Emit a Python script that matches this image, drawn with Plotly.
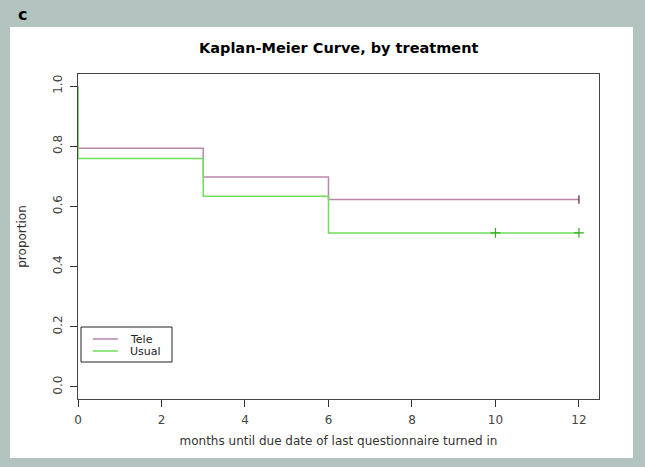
import plotly.graph_objects as go

# Data
groups = ["Tele", "Usual"]
tele_t = [0, 0, 3, 6, 12]
tele_s = [1.0, 0.793, 0.698, 0.623, 0.623]
usual_t = [0, 0, 3, 6, 12]
usual_s = [1.0, 0.759, 0.634, 0.512, 0.512]
tele_cens_t = [12]
tele_cens_s = [0.623]
usual_cens_t = [10, 12]
usual_cens_s = [0.512, 0.512]
x_ticks = [0, 2, 4, 6, 8, 10, 12]
y_ticks = [0.0, 0.2, 0.4, 0.6, 0.8, 1.0]

TELE = "#b987ac"
USUAL = "#6fe05a"
BG = "#b3c3c0"
FONT = "DejaVu Sans, Liberation Sans, Arial, sans-serif"

W, H = 645, 467
L, R, T, B = 78, 46, 74, 68
pw, ph = W - L - R, H - T - B

def px_x(p):
    return (p - L) / pw

def px_y(p):
    return (H - B - p) / ph

fig = go.Figure()
fig.add_trace(go.Scatter(x=tele_t, y=tele_s, mode="lines", line=dict(color=TELE, width=1.5, shape="hv"),
                         name=groups[0]))
fig.add_trace(go.Scatter(x=usual_t, y=usual_s, mode="lines", line=dict(color=USUAL, width=1.5, shape="hv"),
                         name=groups[1]))
fig.add_trace(go.Scatter(x=tele_cens_t, y=tele_cens_s, mode="markers", showlegend=False,
                         marker=dict(symbol="line-ns", size=6, color="#552244",
                                     line=dict(color="#552244", width=1.2))))
fig.add_trace(go.Scatter(x=usual_cens_t, y=usual_cens_s, mode="markers", showlegend=False,
                         marker=dict(symbol="cross-thin", size=7, color="#33aa22",
                                     line=dict(color="#33aa22", width=1.2))))

# white panel
fig.add_shape(type="rect", xref="paper", yref="paper",
              x0=px_x(10), x1=px_x(633), y0=px_y(458), y1=px_y(27),
              fillcolor="white", line=dict(width=0), layer="below")

# legend box (drawn to match the compact R legend)
fig.add_shape(type="rect", xref="paper", yref="paper",
              x0=px_x(81), x1=px_x(172), y0=px_y(362), y1=px_y(327),
              fillcolor="white", line=dict(color="#222222", width=1))
for i, (name, col) in enumerate(zip(groups, [TELE, USUAL])):
    yy = 339 + 12 * i
    fig.add_shape(type="line", xref="paper", yref="paper",
                  x0=px_x(93), x1=px_x(118), y0=px_y(yy), y1=px_y(yy),
                  line=dict(color=col, width=1.5))
    fig.add_annotation(text=name, xref="paper", yref="paper", x=px_x(129), y=px_y(yy),
                       xanchor="left", yanchor="middle", showarrow=False, borderpad=0,
                       font=dict(family=FONT, size=11, color="#222222"))

fig.add_annotation(text="<b>c</b>", xref="paper", yref="paper", x=px_x(22), y=px_y(14),
                   xanchor="center", yanchor="middle",
                   showarrow=False, font=dict(family=FONT, size=16, color="black"))
fig.add_annotation(text="<b>Kaplan-Meier Curve, by treatment</b>", xref="paper", yref="paper",
                   x=0.5, y=px_y(48), xanchor="center", yanchor="middle", showarrow=False,
                   font=dict(family=FONT, size=14.5, color="black"))

fig.update_layout(
    width=W, height=H,
    margin=dict(l=L, r=R, t=T, b=B),
    paper_bgcolor=BG, plot_bgcolor="white",
    font=dict(family=FONT, size=12, color="#333333"),
    showlegend=False,
)
fig.update_xaxes(range=[0, 12.48], tickvals=x_ticks, ticks="outside", ticklen=7, tickcolor="#333",
                 showline=True, linecolor="#444", linewidth=1, mirror=True, showgrid=False, zeroline=False,
                 tickfont=dict(size=12, color="#444"), ticklabelstandoff=3,
                 title=dict(text="months until due date of last questionnaire turned in",
                            font=dict(size=12, color="#333"), standoff=10))
fig.update_yaxes(range=[-0.04, 1.04], tickvals=y_ticks, ticktext=[f"{v:.1f}" for v in y_ticks],
                 ticks="outside", ticklen=7, tickcolor="#333", tickangle=-90,
                 tickfont=dict(size=12, color="#444"), ticklabelstandoff=3,
                 showline=True, linecolor="#444", linewidth=1, mirror=True, showgrid=False, zeroline=False,
                 title=dict(text="proportion", font=dict(size=12, color="#333"), standoff=22))

fig.write_html("out.html", config={"displayModeBar": False},
               post_script="document.body.style.margin='0px';document.body.style.background='%s';" % BG)
